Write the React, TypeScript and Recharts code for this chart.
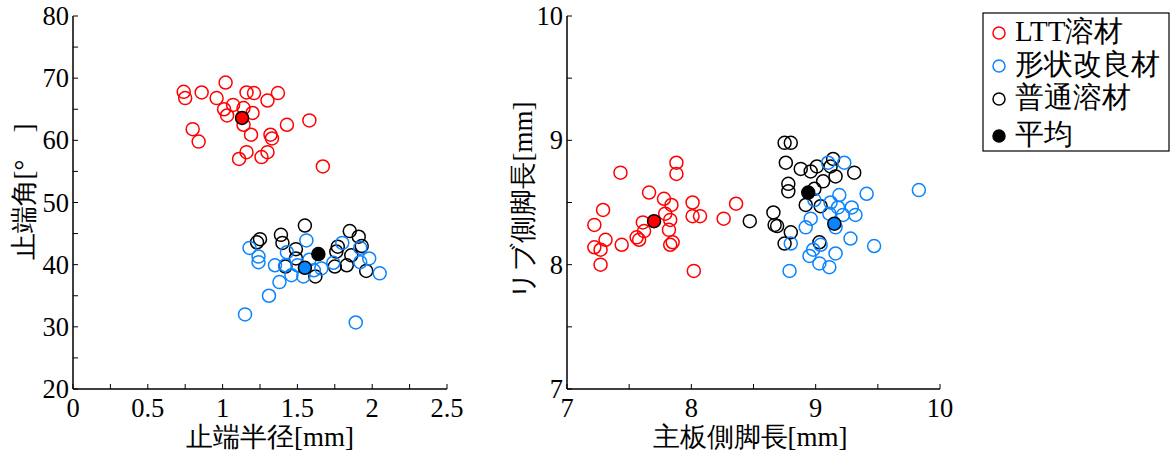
import { ScatterChart, Scatter, XAxis, YAxis, Cell } from "recharts";

const FONT = "'Liberation Serif', 'Times New Roman', Times, serif";
const RED = "#ff0000";
const BLUE = "#0a84ff";
const BLACK = "#000000";

// 止端半径 [mm] / 止端角 [°]
const lttRadius = [1.02, 0.74, 0.75, 0.86, 0.96, 1.16, 1.21, 1.37, 1.3, 1.07, 1.01, 1.14, 1.2, 1.03, 1.14, 1.43, 1.58, 0.8, 0.84, 1.19, 1.32, 1.33, 1.16, 1.3, 1.26, 1.11, 1.67];
const lttAngle = [69.3, 67.8, 66.8, 67.7, 66.8, 67.7, 67.6, 67.6, 66.4, 65.7, 65.0, 65.2, 64.4, 64.0, 62.5, 62.5, 63.2, 61.8, 59.8, 60.9, 60.9, 60.3, 58.1, 58.1, 57.3, 57.0, 55.8];
const shapeRadius = [1.18, 1.24, 1.24, 1.56, 1.43, 1.35, 1.42, 1.5, 1.46, 1.54, 1.61, 1.66, 1.74, 1.8, 1.92, 1.98, 1.92, 2.05, 1.38, 1.31, 1.15, 1.89, 1.58];
const shapeAngle = [42.7, 41.3, 40.4, 43.9, 42.0, 39.9, 39.9, 39.9, 38.3, 38.1, 39.1, 39.4, 40.3, 43.5, 42.7, 41.0, 40.4, 38.6, 37.2, 35.0, 32.0, 30.7, 40.8];
const normalRadius = [1.55, 1.25, 1.23, 1.39, 1.4, 1.49, 1.85, 1.91, 1.93, 1.77, 1.76, 1.83, 1.75, 1.96, 1.62, 1.42, 1.49, 1.86];
const normalAngle = [46.3, 44.1, 43.6, 44.8, 43.5, 42.5, 45.4, 44.5, 43.0, 42.9, 42.1, 39.9, 39.7, 39.0, 38.1, 39.7, 41.0, 41.5];
const meanRadius = [1.13, 1.64, 1.55];
const meanAngle = [63.6, 41.7, 39.5];

// 主板側脚長 [mm] / リブ側脚長 [mm]
const lttMain = [7.88, 7.88, 7.43, 7.66, 7.78, 7.84, 8.01, 8.36, 7.29, 8.01, 8.07, 8.26, 7.79, 7.83, 7.61, 7.22, 7.82, 7.62, 7.56, 7.58, 7.85, 7.83, 7.31, 7.22, 7.27, 7.44, 7.27, 8.02];
const lttRib = [8.82, 8.73, 8.74, 8.58, 8.53, 8.48, 8.5, 8.49, 8.44, 8.39, 8.39, 8.37, 8.41, 8.36, 8.34, 8.32, 8.28, 8.27, 8.22, 8.2, 8.18, 8.16, 8.2, 8.14, 8.12, 8.16, 8.0, 7.95];
const shapeMain = [9.1, 9.23, 9.83, 9.41, 9.19, 8.99, 9.12, 9.18, 9.29, 9.32, 9.22, 9.11, 8.96, 8.92, 9.16, 8.8, 9.04, 8.98, 9.28, 9.47, 9.16, 8.95, 9.03, 9.11, 8.79];
const shapeRib = [8.82, 8.82, 8.6, 8.57, 8.56, 8.52, 8.5, 8.46, 8.46, 8.4, 8.4, 8.41, 8.37, 8.3, 8.3, 8.17, 8.16, 8.12, 8.21, 8.15, 8.09, 8.07, 8.01, 7.98, 7.95];
const normalMain = [8.47, 8.75, 8.8, 8.76, 8.88, 8.96, 9.01, 9.14, 9.12, 9.16, 9.31, 9.06, 8.78, 8.78, 8.99, 8.92, 9.04, 8.66, 8.67, 8.69, 8.8, 8.75, 9.03];
const normalRib = [8.35, 8.98, 8.98, 8.82, 8.77, 8.75, 8.79, 8.85, 8.79, 8.71, 8.74, 8.67, 8.65, 8.59, 8.61, 8.48, 8.47, 8.42, 8.32, 8.31, 8.26, 8.17, 8.18];
const meanMain = [7.7, 8.94, 9.15];
const meanRib = [8.35, 8.58, 8.33];
const meanColors = [RED, BLACK, BLUE];

const leftXTicks = [0, 0.25, 0.5, 0.75, 1, 1.25, 1.5, 1.75, 2, 2.25, 2.5];
const leftXLabels = [0, 0.5, 1, 1.5, 2, 2.5];
const leftYTicks = [20, 25, 30, 35, 40, 45, 50, 55, 60, 65, 70, 75, 80];
const leftYLabels = [20, 30, 40, 50, 60, 70, 80];
const rightTicks = [7, 7.5, 8, 8.5, 9, 9.5, 10];
const rightLabels = [7, 8, 9, 10];

const legendItems = ["LTT溶材", "形状改良材", "普通溶材", "平均"];

const zip = (xs: number[], ys: number[]) => xs.map((x, i) => ({ x, y: ys[i] }));

const ring = (color: string) => (p: any) => (
  <circle cx={p.cx} cy={p.cy} r={6.5} fill="none" stroke={color} strokeWidth={1.5} />
);
const dot = (p: any) => (
  <circle cx={p.cx} cy={p.cy} r={6.5} fill={p.fill} stroke={BLACK} strokeWidth={1.5} />
);

const TICK = 5;
const tickFont = { fontFamily: FONT, fontSize: 26.5, fill: "#000" };

const bottomTick = (labels: number[]) => (p: any) => {
  const v = p.payload.value;
  return (
    <g>
      <line x1={p.x} x2={p.x} y1={p.y} y2={p.y - TICK} stroke="#000" strokeWidth={1} />
      {labels.includes(v) && (
        <text x={p.x} y={p.y + 28} textAnchor="middle" {...tickFont}>{String(v)}</text>
      )}
    </g>
  );
};
const leftTick = (labels: number[]) => (p: any) => {
  const v = p.payload.value;
  return (
    <g>
      <line x1={p.x} x2={p.x + TICK} y1={p.y} y2={p.y} stroke="#000" strokeWidth={1} />
      {labels.includes(v) && (
        <text x={p.x - 4} y={p.y + 9} textAnchor="end" {...tickFont}>{String(v)}</text>
      )}
    </g>
  );
};
const topTick = (p: any) => (
  <line x1={p.x} x2={p.x} y1={p.y} y2={p.y + TICK} stroke="#000" strokeWidth={1} />
);
const rightTick = (p: any) => (
  <line x1={p.x} x2={p.x - TICK} y1={p.y} y2={p.y} stroke="#000" strokeWidth={1} />
);

const axisLine = { stroke: "#000", strokeWidth: 1.5 };
const labelFont = { fontFamily: FONT, fontSize: 27, fill: "#000" };

type PanelProps = {
  left: number;
  rightMargin: number;
  xTicks: number[];
  xLabels: number[];
  yTicks: number[];
  yLabels: number[];
  xDomain: [number, number];
  yDomain: [number, number];
  xTitle: string;
  yTitle: string;
  xTitleX: number;
  yTitleX: number;
  yTitleY: number;
  ltt: { x: number; y: number }[];
  shape: { x: number; y: number }[];
  normal: { x: number; y: number }[];
  mean: { x: number; y: number }[];
};

const Panel = (p: PanelProps) => (
  <div style={{ position: "absolute", left: p.left, top: 0 }}>
    <ScatterChart width={490} height={459} margin={{ top: 16, right: p.rightMargin, bottom: 0, left: 0 }}>
      <XAxis
        xAxisId="b" type="number" dataKey="x" domain={p.xDomain} ticks={p.xTicks}
        allowDataOverflow height={70} tickSize={0} tickMargin={0} tickLine={false}
        axisLine={axisLine} tick={bottomTick(p.xLabels)} interval={0}
        label={{
          content: () => (
            <text x={p.xTitleX} y={446} textAnchor="middle" {...labelFont}>{p.xTitle}</text>
          ),
        }}
      />
      <XAxis
        xAxisId="t" orientation="top" type="number" dataKey="x" domain={p.xDomain} ticks={p.xTicks}
        allowDataOverflow height={0} tickSize={0} tickMargin={0} tickLine={false}
        axisLine={axisLine} tick={topTick} interval={0}
      />
      <YAxis
        yAxisId="l" type="number" dataKey="y" domain={p.yDomain} ticks={p.yTicks}
        allowDataOverflow width={73} tickSize={0} tickMargin={0} tickLine={false}
        axisLine={axisLine} tick={leftTick(p.yLabels)} interval={0}
        label={{
          content: () => (
            <text
              x={p.yTitleX} y={p.yTitleY} textAnchor="middle" dominantBaseline="central"
              transform={`rotate(-90, ${p.yTitleX}, ${p.yTitleY})`} {...labelFont}
            >
              {p.yTitle}
            </text>
          ),
        }}
      />
      <YAxis
        yAxisId="r" orientation="right" type="number" dataKey="y" domain={p.yDomain} ticks={p.yTicks}
        allowDataOverflow width={0} tickSize={0} tickMargin={0} tickLine={false}
        axisLine={axisLine} tick={rightTick} interval={0}
      />
      <Scatter xAxisId="t" yAxisId="r" data={p.mean} shape={() => <g />} isAnimationActive={false} />
      <Scatter xAxisId="b" yAxisId="l" data={p.ltt} shape={ring(RED)} isAnimationActive={false} />
      <Scatter xAxisId="b" yAxisId="l" data={p.normal} shape={ring(BLACK)} isAnimationActive={false} />
      <Scatter xAxisId="b" yAxisId="l" data={p.shape} shape={ring(BLUE)} isAnimationActive={false} />
      <Scatter xAxisId="b" yAxisId="l" data={p.mean} shape={dot} isAnimationActive={false}>
        {p.mean.map((_, i) => (
          <Cell key={i} fill={meanColors[i]} />
        ))}
      </Scatter>
    </ScatterChart>
  </div>
);

const Legend = () => (
  <svg style={{ position: "absolute", left: 975, top: 5 }} width={196} height={155}>
    <rect x={8} y={8} width={186} height={138} fill="#fff" stroke="#000" strokeWidth={1.2} />
    {legendItems.map((name, i) => {
      const cy = [28, 61, 94, 131][i];
      const color = [RED, BLUE, BLACK, BLACK][i];
      return (
        <g key={name}>
          <circle cx={24} cy={cy} r={6} fill={i === 3 ? BLACK : "none"} stroke={color} strokeWidth={1.5} />
          <text x={40} y={cy + 8} fontFamily={FONT} fontSize={29} fill="#000">{name}</text>
        </g>
      );
    })}
  </svg>
);

export default function App() {
  return (
    <div style={{ position: "absolute", left: 0, top: 0, width: 1171, height: 459, background: "#fff" }}>
      <Panel
        left={0} rightMargin={43}
        xTicks={leftXTicks} xLabels={leftXLabels} yTicks={leftYTicks} yLabels={leftYLabels}
        xDomain={[0, 2.5]} yDomain={[20, 80]}
        xTitle="止端半径[mm]" yTitle={"止端角[°\u2003]"} xTitleX={270} yTitleX={24} yTitleY={192}
        ltt={zip(lttRadius, lttAngle)} shape={zip(shapeRadius, shapeAngle)}
        normal={zip(normalRadius, normalAngle)} mean={zip(meanRadius, meanAngle)}
      />
      <Panel
        left={494} rightMargin={44}
        xTicks={rightTicks} xLabels={rightLabels} yTicks={rightTicks} yLabels={rightLabels}
        xDomain={[7, 10]} yDomain={[7, 10]}
        xTitle="主板側脚長[mm]" yTitle="リブ側脚長[mm]" xTitleX={256} yTitleX={29} yTitleY={200}
        ltt={zip(lttMain, lttRib)} shape={zip(shapeMain, shapeRib)}
        normal={zip(normalMain, normalRib)} mean={zip(meanMain, meanRib)}
      />
      <Legend />
    </div>
  );
}
